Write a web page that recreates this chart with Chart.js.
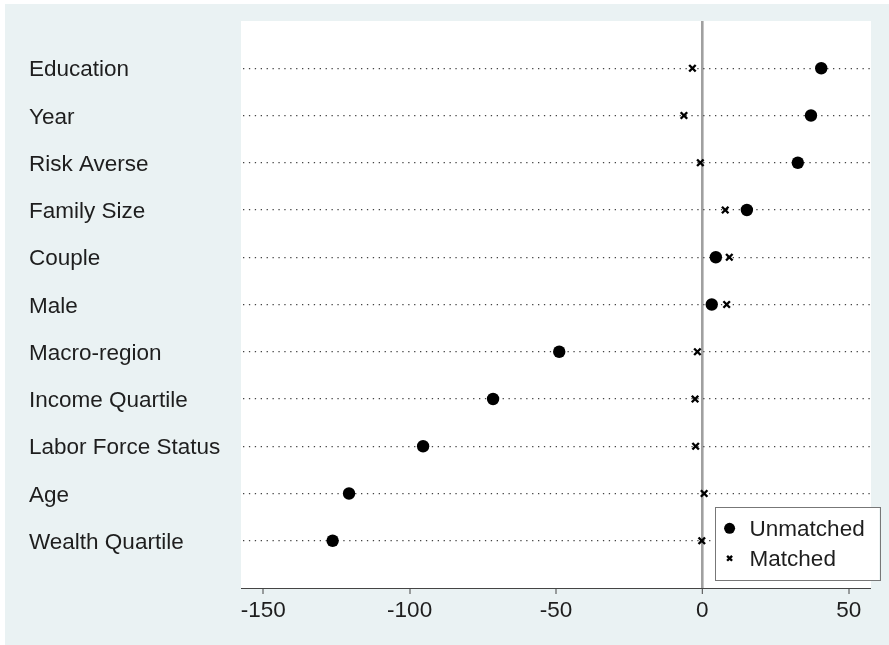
<!DOCTYPE html>
<html>
<head>
<meta charset="utf-8">
<script src="https://cdn.jsdelivr.net/npm/chart.js@4/dist/chart.umd.min.js"></script>
<style>
  html, body { margin: 0; padding: 0; background: #ffffff; }
  #wrap { position: absolute; left: 5px; top: 4px; width: 884px; height: 641px; background: #eaf2f3; }
  canvas { display: block; }
</style>
</head>
<body>
<div id="wrap"><canvas id="c" width="884" height="641"></canvas></div>
<script>
const categories = ['Education', 'Year', 'Risk Averse', 'Family Size', 'Couple', 'Male',
  'Macro-region', 'Income Quartile', 'Labor Force Status', 'Age', 'Wealth Quartile'];
const unmatched = [40.6, 37.1, 32.6, 15.2, 4.6, 3.2, -48.9, -71.5, -95.4, -120.7, -126.3];
const matched = [-3.4, -6.3, -0.7, 7.8, 9.2, 8.3, -1.7, -2.5, -2.3, 0.6, -0.2];
const xTicks = [-150, -100, -50, 0, 50];
const seriesNames = ['Unmatched', 'Matched'];

const FONT = { family: "'Liberation Sans', Arial, sans-serif", size: 22.5 };
const TEXT = '#1e1e1e';

const plotBg = {
  id: 'plotBg',
  beforeDraw(chart) {
    const { ctx, chartArea: a } = chart;
    ctx.save();
    ctx.fillStyle = '#ffffff';
    ctx.fillRect(a.left, a.top, a.right - a.left, a.bottom - a.top);
    ctx.restore();
  }
};

const boxLegend = {
  id: 'boxLegend',
  afterDraw(chart) {
    const { ctx, chartArea: a } = chart;
    const left = a.right - 156.4, right = a.right + 8.3;
    const top = a.bottom - 80.7, bottom = a.bottom - 7.3;
    ctx.save();
    ctx.fillStyle = '#ffffff';
    ctx.fillRect(left, top, right - left, bottom - top);
    ctx.strokeStyle = '#777777';
    ctx.lineWidth = 1;
    ctx.strokeRect(Math.round(left) + 0.5, Math.round(top) + 0.5, Math.round(right - left), Math.round(bottom - top));
    const rows = [
      { ds: chart.data.datasets[0], y: top + 21, r: 5.5 },
      { ds: chart.data.datasets[1], y: top + 51, r: 3.5 }
    ];
    rows.forEach(row => {
      ctx.fillStyle = '#000';
      ctx.strokeStyle = '#000';
      ctx.lineWidth = row.ds.pointBorderWidth || 0;
      Chart.helpers.drawPoint(ctx, { pointStyle: row.ds.pointStyle, radius: row.r, borderWidth: row.ds.pointBorderWidth, rotation: 0 }, left + 15, row.y);
      ctx.fillStyle = TEXT;
      ctx.font = FONT.size + 'px ' + FONT.family;
      ctx.textBaseline = 'middle';
      ctx.textAlign = 'left';
      ctx.fillText(row.ds.label, left + 35, row.y + 1);
    });
    ctx.restore();
  }
};

const toPoints = arr => arr.map((v, i) => ({ x: v, y: i + 1 }));

new Chart(document.getElementById('c'), {
  type: 'scatter',
  data: {
    datasets: [
      {
        label: seriesNames[0],
        data: toPoints(unmatched),
        pointStyle: 'circle',
        pointRadius: 6.2,
        pointBackgroundColor: '#000',
        pointBorderColor: '#000',
        pointBorderWidth: 0
      },
      {
        label: seriesNames[1],
        data: toPoints(matched),
        pointStyle: 'crossRot',
        pointRadius: 4.6,
        pointBackgroundColor: '#000',
        pointBorderColor: '#000',
        pointBorderWidth: 2.4
      }
    ]
  },
  options: {
    responsive: false,
    animation: false,
    layout: { padding: { left: 24, top: 17, right: 18, bottom: 0 } },
    plugins: { legend: { display: false }, tooltip: { enabled: false } },
    scales: {
      x: {
        type: 'linear',
        min: -157.6,
        max: 57.6,
        afterBuildTicks: s => { s.ticks = xTicks.map(v => ({ value: v })); },
        afterFit: s => { s.height = 57; },
        grid: {
          drawOnChartArea: true,
          drawTicks: true,
          tickLength: 6,
          tickColor: '#444444',
          tickWidth: 1,
          color: ctx => (ctx.tick && ctx.tick.value === 0) ? '#a0a0a0' : 'rgba(0,0,0,0)',
          lineWidth: ctx => (ctx.tick && ctx.tick.value === 0) ? 2.6 : 0
        },
        border: { display: true, color: '#444444', width: 1 },
        ticks: { font: FONT, color: TEXT, padding: 3, maxRotation: 0 }
      },
      y: {
        type: 'linear',
        reverse: true,
        min: 0,
        max: 12,
        afterBuildTicks: s => { s.ticks = categories.map((c, i) => ({ value: i + 1 })); },
        afterFit: s => { s.width = 212; },
        grid: {
          drawTicks: false,
          color: '#444444',
          lineWidth: 1.2
        },
        border: { display: false, dash: [1.3, 4.6], dashOffset: -2 },
        ticks: {
          font: FONT,
          color: TEXT,
          crossAlign: 'far',
          padding: 0,
          labelOffset: 2,
          autoSkip: false,
          callback: v => categories[v - 1]
        }
      }
    }
  },
  plugins: [plotBg, boxLegend]
});
</script>
</body>
</html>
